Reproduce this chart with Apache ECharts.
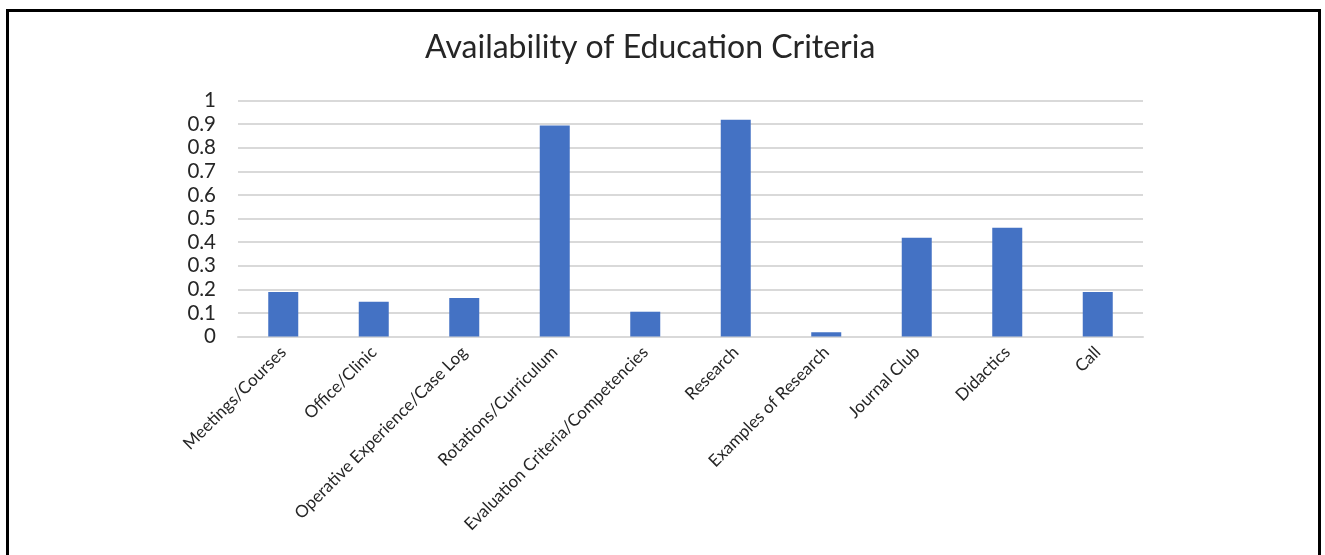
<!DOCTYPE html>
<html>
<head>
<meta charset="utf-8">
<script src="https://cdn.jsdelivr.net/npm/echarts@6/dist/echarts.min.js"></script>
<style>
html,body{margin:0;padding:0;background:#fff;overflow:hidden;}
#chart{width:1325px;height:555px;}
</style>
</head>
<body>
<div id="chart"></div>
<script>
const categories = ["Meetings/Courses","Office/Clinic","Operative Experience/Case Log","Rotations/Curriculum","Evaluation Criteria/Competencies","Research","Examples of Research","Journal Club","Didactics","Call"];
const values = [0.189, 0.147, 0.163, 0.894, 0.105, 0.918, 0.018, 0.418, 0.461, 0.189];
const yTicks = [0, 0.1, 0.2, 0.3, 0.4, 0.5, 0.6, 0.7, 0.8, 0.9, 1];
const titleText = "Availability of Education Criteria";

const chart = echarts.init(document.getElementById('chart'), null, {renderer:'canvas'});
chart.setOption({
  animation:false,
  backgroundColor:'#ffffff',
  title:{
    text:titleText,
    left:420,
    top:27,
    textStyle:{fontFamily:'Lato',fontSize:32,fontWeight:'normal',color:'#262626'}
  },
  graphic:[{
    type:'rect',
    shape:{x:7.5,y:10.5,width:1312,height:700},
    style:{fill:'none',stroke:'#000',lineWidth:3},
    silent:true
  }],
  grid:{left:238,right:182,top:100.5,bottom:218.5},
  xAxis:{
    type:'category',
    data:categories,
    axisTick:{show:false},
    axisLine:{lineStyle:{color:'#d9d9d9',width:2}},
    axisLabel:{rotate:45,interval:0,margin:13,fontFamily:'Lato',fontSize:17,color:'#262626'}
  },
  yAxis:{
    type:'value',
    min:0,max:1,interval:0.1,
    axisLine:{show:false},
    axisTick:{show:false},
    splitLine:{lineStyle:{color:'#d9d9d9',width:2}},
    axisLabel:{
      fontFamily:'Lato',fontSize:20.5,color:'#262626',margin:22,
      formatter:function(v){
        const t = yTicks.find(x=>Math.abs(x-v)<1e-9);
        return t===undefined? '' : String(t);
      }
    }
  },
  series:[{
    type:'bar',
    data:values,
    barWidth:30,
    itemStyle:{color:'#4472C4'}
  }]
});
</script>
</body>
</html>
